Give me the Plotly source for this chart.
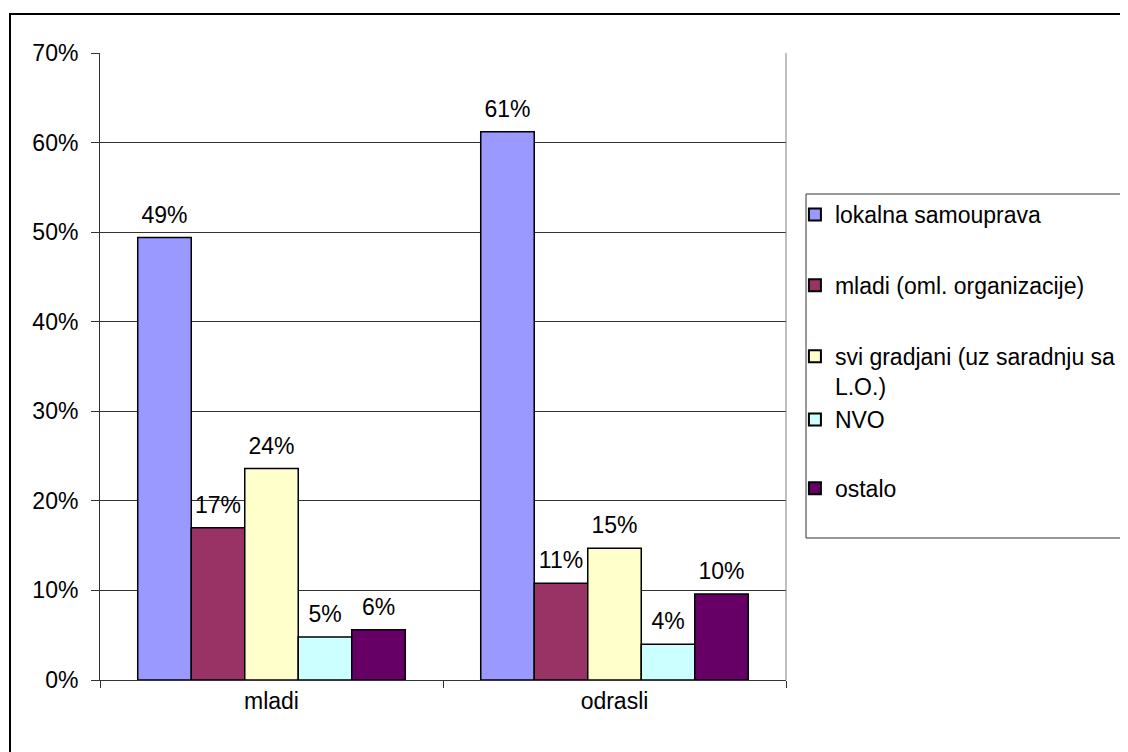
import plotly.graph_objects as go

categories = ["mladi", "odrasli"]
series_names = ["lokalna samouprava", "mladi (oml. organizacije)",
                "svi gradjani (uz saradnju sa<br>L.O.)", "NVO", "ostalo"]
colors = ["#9999FF", "#993366", "#FFFFCC", "#CCFFFF", "#660066"]
values = [
    [0.494, 0.612],
    [0.170, 0.108],
    [0.236, 0.147],
    [0.048, 0.040],
    [0.056, 0.096],
]
# which legend block each series goes in (Excel spaces the entries unevenly)
legend_ids = ["legend", "legend", "legend", "legend2", "legend2"]

FONT = "Liberation Sans, Arial, sans-serif"

fig = go.Figure()
for i, (name, col, vals) in enumerate(zip(series_names, colors, values)):
    fig.add_trace(go.Bar(
        x=categories, y=vals, name=name,
        marker=dict(color=col, line=dict(color="black", width=1.5)),
        offsetgroup=str(i), legendgroup=str(i), legend=legend_ids[i],
    ))
    # data labels, aligned with the grouped bars
    fig.add_trace(go.Scatter(
        x=categories, y=vals, mode="markers+text",
        text=[f"{v:.0%}" for v in vals], textposition="top center",
        textfont=dict(size=23, color="black", family=FONT),
        marker=dict(size=13, opacity=0),
        offsetgroup=str(i), showlegend=False, hoverinfo="skip",
        cliponaxis=False,
    ))

# outer chart border and legend box
fig.add_shape(type="rect", xref="paper", yref="paper",
              x0=-0.1312, x1=1.52, y0=-0.25, y1=1.0622,
              line=dict(color="black", width=2))
fig.add_shape(type="rect", xref="paper", yref="paper",
              x0=1.0292, x1=1.6, y0=0.2265, y1=0.7751,
              line=dict(color="#333333", width=1))
# right plot-area border
fig.add_shape(type="line", xref="paper", yref="paper", x0=1, x1=1, y0=0, y1=1,
              line=dict(color="#808080", width=1))

leg = dict(xanchor="left", yanchor="top", bgcolor="rgba(0,0,0,0)",
           borderwidth=0, font=dict(size=23, family=FONT), valign="top",
           itemsizing="constant")

fig.update_layout(
    width=1128, height=752,
    margin=dict(l=92, r=350, t=45, b=80),
    paper_bgcolor="white", plot_bgcolor="white",
    barmode="group", bargap=0.22, bargroupgap=0,
    scattermode="group", scattergap=0.22,
    font=dict(family=FONT, size=23, color="black"),
    xaxis=dict(
        type="category", tickson="boundaries", ticks="outside", ticklen=7,
        tickcolor="#333333", showline=True, linecolor="#333333", linewidth=1,
        showgrid=False, tickfont=dict(size=23),
    ),
    yaxis=dict(
        range=[0, 0.7], dtick=0.1, tickformat=".0%", ticks="outside",
        ticklen=8, tickcolor="#333333", showline=True, linecolor="#333333",
        linewidth=1, showgrid=True, gridcolor="#333333", gridwidth=1,
        zeroline=False, tickfont=dict(size=23), ticklabelstandoff=8,
    ),
    legend=dict(leg, x=1.013, y=0.7767, tracegroupgap=38),
    legend2=dict(leg, x=1.013, y=0.4498, tracegroupgap=36),
    showlegend=True,
)

fig.write_html("out.html")
